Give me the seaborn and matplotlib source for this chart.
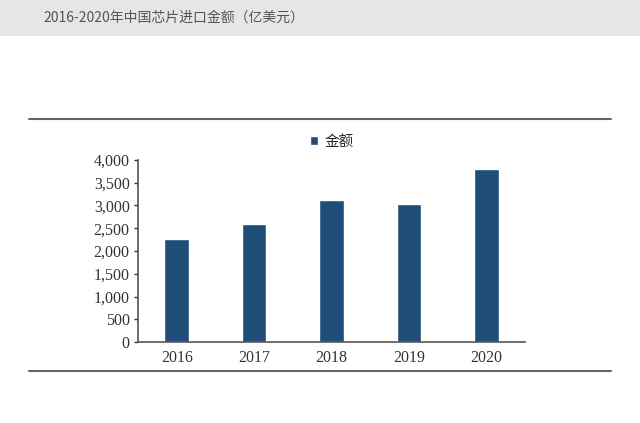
import pandas as pd
import seaborn as sns
import matplotlib.pyplot as plt
from matplotlib.lines import Line2D
from matplotlib.patches import Rectangle
from matplotlib.ticker import FuncFormatter

years = ["2016", "2017", "2018", "2019", "2020"]
amount = [2271, 2601, 3120, 3040, 3800]
series_name = "金额"
title = "2016-2020年中国芯片进口金额（亿美元）"

df = pd.DataFrame({"year": years, "amount": amount, "series": series_name})

sns.set_style("white")
plt.rcParams['font.family'] = ['Liberation Serif', 'Noto Sans CJK SC', 'DejaVu Sans']

fig = plt.figure(figsize=(6.4, 4.23), dpi=100)

# grey header band with the title
fig.patches.append(Rectangle((0, 1 - 36 / 423), 1, 36 / 423, transform=fig.transFigure,
                             facecolor="#e6e6e6", edgecolor="none", zorder=0))
fig.text(43 / 640, 1 - 18 / 423, title, fontsize=10, color="#555555", va="center",
         family=['Noto Sans CJK SC', 'DejaVu Sans'])

# horizontal rules above and below the chart
fig.add_artist(Line2D([29 / 640, 611 / 640], [1 - 119 / 423] * 2, transform=fig.transFigure,
                      color="#666666", lw=1.5))
fig.add_artist(Line2D([29 / 640, 611 / 640], [1 - 371 / 423] * 2, transform=fig.transFigure,
                      color="#666666", lw=1.5))

ax = fig.add_axes([138 / 640, 1 - 342 / 423, 387 / 640, 182 / 423])
sns.barplot(data=df, x="year", y="amount", hue="series", palette=["#1F4E79"],
            width=0.32, ax=ax, saturation=1)

ax.set(xlabel=None, ylabel=None)
ax.set_xlim(-0.5, 4.5)
ax.set_ylim(0, 4000)
ax.set_yticks(range(0, 4001, 500))
ax.yaxis.set_major_formatter(FuncFormatter(lambda v, p: f"{int(v):,}"))
ax.tick_params(axis="y", direction="out", length=3, width=1, colors="#333333",
               labelsize=11.5, left=True, pad=3)
ax.tick_params(axis="x", length=0, labelsize=11.5, colors="#333333", pad=6)
for s in ["top", "right"]:
    ax.spines[s].set_visible(False)
for s in ["left", "bottom"]:
    ax.spines[s].set_color("#555555")
    ax.spines[s].set_linewidth(1.2)

ax.legend(loc="lower center", bbox_to_anchor=(0.5, 0.99), frameon=False,
          handlelength=0.6, handleheight=0.6, handletextpad=0.4,
          prop={'family': ['Noto Sans CJK SC'], 'size': 10.5})

plt.savefig("out.png", dpi=100)
